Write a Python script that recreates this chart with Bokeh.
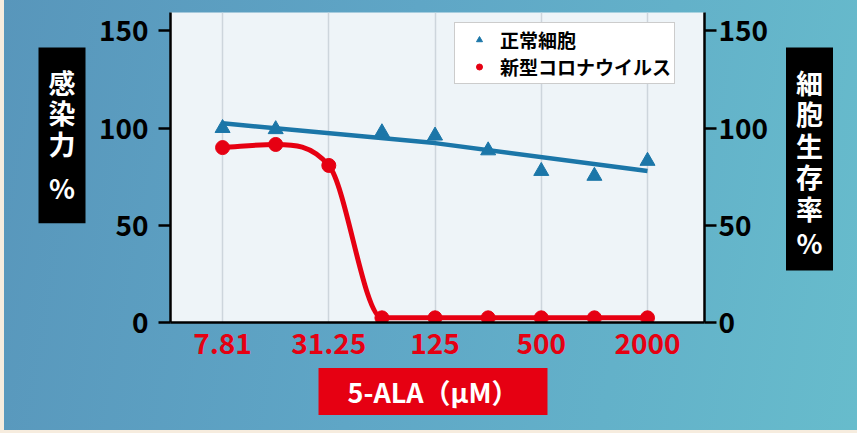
import numpy as np
from bokeh.plotting import figure
from bokeh.models import Range1d, FixedTicker, LinearAxis, Label, Legend, LegendItem
from bokeh.embed import file_html
from bokeh.resources import INLINE

# 5-ALA concentrations (uM), two-fold dilution series
conc = [7.8125, 15.625, 31.25, 62.5, 125, 250, 500, 1000, 2000]
tick_conc = [7.8125, 31.25, 125, 500, 2000]
tick_labels = ["7.81", "31.25", "125", "500", "2000"]
y_ticks = [0, 50, 100, 150]

# Normal cell viability (%); no measurement at 31.25 uM
normal_conc = [7.8125, 15.625, 62.5, 125, 250, 500, 1000, 2000]
normal_viability = [100.0, 99.4, 97.8, 96.1, 88.5, 77.9, 75.4, 83.1]
# Trend line drawn over the viability points
normal_trend_conc = [7.8125, 125, 2000]
normal_trend = [102.5, 92.3, 78.0]

# SARS-CoV-2 infectivity (%)
virus_infectivity = [90.0, 91.6, 80.8, 2.4, 2.4, 2.4, 2.4, 2.4, 2.4]

FONT = "Noto Sans CJK JP"
RED = "#e60012"
BLUE = "#1b76a8"
W, H = 857, 433

p = figure(width=W, height=H, output_backend="svg", toolbar_location=None,
           x_axis_type="log",
           x_range=Range1d(3.96, 4207), y_range=Range1d(0, 159.5),
           min_border_left=170, min_border_right=153,
           min_border_top=12, min_border_bottom=111)
p.background_fill_color = "#eef4f8"
p.border_fill_alpha = 0
p.outline_line_color = None
p.styles = {
    "background": "linear-gradient(to right, #f6ecde 0px, #f6ecde 4px, transparent 4px), "
                  "linear-gradient(to top, #f6ecde 0px, #f6ecde 3px, transparent 3px), "
                  "linear-gradient(100deg, #5896bb 0%, #5fa6c6 45%, #67bccc 100%)"
}

# axes
xa = p.xaxis[0]
xa.ticker = FixedTicker(ticks=tick_conc)
xa.major_label_overrides = dict(zip(tick_conc, tick_labels))
xa.major_tick_out = 0
xa.major_tick_in = 0
xa.minor_tick_line_color = None
xa.major_label_standoff = 10
xa.major_label_text_color = RED
xa.major_label_text_font_size = "28px"
xa.axis_line_color = "black"
xa.axis_line_width = 2.5

ya = p.yaxis[0]
ya.ticker = FixedTicker(ticks=y_ticks)
ya.major_label_standoff = 10
ra = LinearAxis(ticker=FixedTicker(ticks=y_ticks))
ra.major_label_standoff = 2
p.add_layout(ra, "right")

for ax in (ya, ra):
    ax.major_label_text_color = "black"
    ax.major_label_text_font_size = "28px"
    ax.major_tick_out = 12
    ax.major_tick_in = 0
    ax.minor_tick_line_color = None
    ax.major_tick_line_width = 2.5
    ax.axis_line_width = 2.5
    ax.axis_line_color = "black"
    ax.major_tick_line_color = "black"

for ax in (xa, ya, ra):
    ax.major_label_text_font = FONT
    ax.major_label_text_font_style = "bold"

p.xgrid.grid_line_color = "#cdd5dc"
p.xgrid.grid_line_width = 1.5
p.ygrid.grid_line_color = None

# normal cells: trend line + triangles
p.line(normal_trend_conc, normal_trend, line_color=BLUE, line_width=4.5)
tri = p.scatter(normal_conc, normal_viability, marker="triangle", size=15,
                fill_color=BLUE, line_color=BLUE)

# virus: smooth monotone cubic through the points (log-x space), drawn as beziers
lx = np.log2(np.array(conc, dtype=float))
ly = np.array(virus_infectivity, dtype=float)
n = len(lx)
hh = np.diff(lx)
dl = np.diff(ly) / hh
m = np.zeros(n)
m[0], m[-1] = dl[0], dl[-1]
for i in range(1, n - 1):
    m[i] = 0.0 if dl[i - 1] * dl[i] <= 0 else (dl[i - 1] + dl[i]) / 2
for i in range(n - 1):
    if dl[i] == 0:
        m[i] = m[i + 1] = 0.0
        continue
    a, b = m[i] / dl[i], m[i + 1] / dl[i]
    s = a * a + b * b
    if s > 9:
        t = 3 / np.sqrt(s)
        m[i], m[i + 1] = t * a * dl[i], t * b * dl[i]
p.bezier(x0=conc[:-1], y0=ly[:-1], x1=conc[1:], y1=ly[1:],
         cx0=2 ** (lx[:-1] + hh / 3), cy0=ly[:-1] + m[:-1] * hh / 3,
         cx1=2 ** (lx[1:] - hh / 3), cy1=ly[1:] - m[1:] * hh / 3,
         line_color=RED, line_width=5, line_cap="round")
circ = p.scatter(conc, virus_infectivity, marker="circle", size=14,
                 fill_color=RED, line_color=RED)

legend = Legend(items=[LegendItem(label="正常細胞", renderers=[tri]),
                       LegendItem(label="新型コロナウイルス", renderers=[circ])],
                location=(284, 238), padding=3, spacing=0,
                glyph_width=42, glyph_height=15, label_height=15, label_standoff=0,
                label_text_font=FONT, label_text_font_style="bold",
                label_text_font_size="19px", label_text_color="black",
                border_line_color="#9a9a9a", border_line_width=1.5,
                background_fill_color="white", background_fill_alpha=1)
p.add_layout(legend)

# transparent overlay canvas (pixel coordinates, y downwards) for the axis titles;
# rendered as its own root so its frame spans the whole canvas
ov = figure(width=W, height=H, output_backend="svg", toolbar_location=None,
            x_range=Range1d(0, W), y_range=Range1d(H, 0),
            x_axis_location=None, y_axis_location=None, min_border=0)
ov.grid.visible = False
ov.outline_line_color = None
ov.background_fill_alpha = 0
ov.border_fill_alpha = 0
ov.styles = {"position": "absolute", "left": "0px", "top": "0px"}


def title_box(x, y, text, fill, pad, line_height=1.0, baseline="top"):
    return Label(x=x, y=y, text=text,
                 text_font=FONT, text_font_style="bold", text_font_size="27px",
                 text_color="white", text_align="center", text_baseline=baseline,
                 text_line_height=line_height, padding=pad,
                 background_fill_color=fill, background_fill_alpha=1)


def mark(x, y, text):
    return Label(x=x, y=y, text=text,
                 text_font=FONT, text_font_style="bold", text_font_size="27px",
                 text_color="white", text_align="center", text_baseline="middle")


# vertical titles: one character per line inside black boxes
ov.add_layout(title_box(61.5, 47, "感\n染\n力", "black",
                        dict(left=10, right=10, top=15, bottom=60), line_height=0.793))
ov.add_layout(mark(61.5, 187, "%"))
ov.add_layout(title_box(809, 47, "細\n胞\n生\n存\n率", "black",
                        dict(left=10, right=10, top=15, bottom=43), line_height=0.808))
ov.add_layout(mark(809, 242, "%"))
ov.add_layout(title_box(432.5, 391, "5-ALA（μM）", RED,
                        dict(left=29, right=29, top=4, bottom=4),
                        baseline="middle"))

open("out.html", "w").write(file_html([p, ov], INLINE))
